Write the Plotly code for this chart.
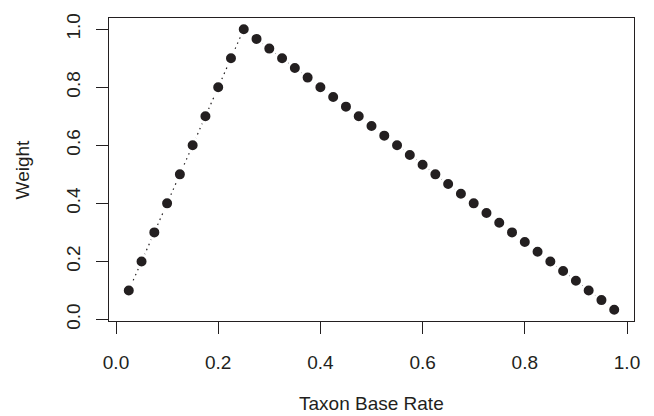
import plotly.graph_objects as go

base_rate = [0.025, 0.05, 0.075, 0.1, 0.125, 0.15, 0.175, 0.2, 0.225, 0.25,
             0.275, 0.3, 0.325, 0.35, 0.375, 0.4, 0.425, 0.45, 0.475, 0.5,
             0.525, 0.55, 0.575, 0.6, 0.625, 0.65, 0.675, 0.7, 0.725, 0.75,
             0.775, 0.8, 0.825, 0.85, 0.875, 0.9, 0.925, 0.95, 0.975]
weight = [0.1, 0.2, 0.3, 0.4, 0.5, 0.6, 0.7, 0.8, 0.9, 1.0,
          0.9667, 0.9333, 0.9, 0.8667, 0.8333, 0.8, 0.7667, 0.7333, 0.7, 0.6667,
          0.6333, 0.6, 0.5667, 0.5333, 0.5, 0.4667, 0.4333, 0.4, 0.3667, 0.3333,
          0.3, 0.2667, 0.2333, 0.2, 0.1667, 0.1333, 0.1, 0.0667, 0.0333]
tick_vals = [0.0, 0.2, 0.4, 0.6, 0.8, 1.0]
tick_text = ["0.0", "0.2", "0.4", "0.6", "0.8", "1.0"]

ink = "#231f20"
font = dict(family="Liberation Sans, Arial, sans-serif", size=19, color=ink)

fig = go.Figure(go.Scatter(
    x=base_rate, y=weight, mode="lines+markers",
    line=dict(color=ink, width=1.2, dash="1.5px,4px"),
    marker=dict(color=ink, size=13, line=dict(color="white", width=3)),
))

axis_common = dict(
    showline=True, mirror=True, linecolor=ink, linewidth=1.3,
    ticks="outside", ticklen=12, tickwidth=1.3, tickcolor=ink,
    showgrid=False, zeroline=False, tickfont=font,
    tickvals=tick_vals, ticktext=tick_text,
)

# the page body adds an 8px offset, so the figure is 8px smaller and margins compensate
fig.update_layout(
    width=646, height=408,
    margin=dict(l=101, r=20, t=5, b=95),
    paper_bgcolor="white", plot_bgcolor="white",
    showlegend=False,
    xaxis=dict(range=[-0.0137, 1.0137], ticklabelstandoff=12, **axis_common),
    yaxis=dict(range=[-0.0053, 1.0387], tickangle=-90, ticklabelstandoff=8, **axis_common),
    annotations=[
        dict(text="Taxon Base Rate", x=0.5, xref="paper", y=-0.2727, yref="paper",
             xanchor="center", yanchor="middle", showarrow=False, font=font),
        dict(text="Weight", x=-0.164, xref="paper", y=0.5, yref="paper",
             xanchor="center", yanchor="middle", textangle=-90, showarrow=False, font=font),
    ],
)

fig.write_html("out.html")
